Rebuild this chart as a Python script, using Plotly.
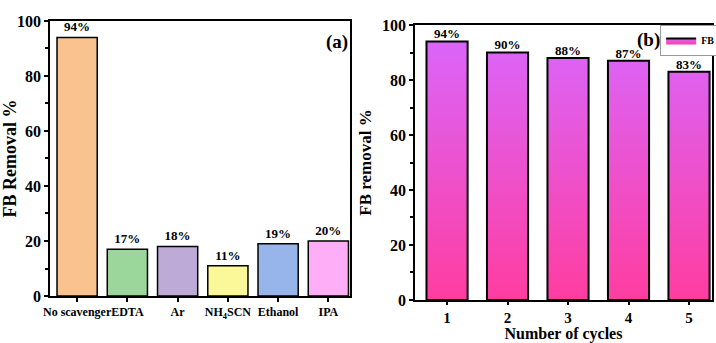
import plotly.graph_objects as go

# Panel (a) data
scavengers = ["No scavenger", "EDTA", "Ar", "NH<sub>4</sub>SCN", "Ethanol", "IPA"]
removal_a = [94, 17, 18, 11, 19, 20]
colors_a = ["#F9C390", "#9BD69A", "#BDAAD6", "#FBF89A", "#97B4EB", "#FDAEF6"]

# Panel (b) data
cycles = [1, 2, 3, 4, 5]
removal_b = [94, 90, 88, 87, 83]

FONT = "Liberation Serif, Times New Roman, serif"
fig = go.Figure()

fig.add_trace(go.Bar(
    x=list(range(len(scavengers))), y=removal_a, width=0.8,
    marker=dict(color=colors_a, line=dict(color="black", width=1.5)),
    text=[f"{v}%" for v in removal_a], textposition="outside", cliponaxis=False,
    textfont=dict(family=FONT, size=13, color="black", weight="bold"),
    showlegend=False, xaxis="x", yaxis="y"))

# Panel (b): gradient-filled bars drawn from the data
bw = 0.68
xs, ys = [], []
for c, v in zip(cycles, removal_b):
    xs += [c - bw / 2, c - bw / 2, c + bw / 2, c + bw / 2, c - bw / 2, None]
    ys += [0, v, v, 0, 0, None]
fig.add_trace(go.Scatter(
    x=xs, y=ys, mode="lines", fill="toself",
    fillgradient=dict(type="vertical", start=0, stop=100,
                      colorscale=[[0, "#FF3DA0"], [1, "#D868FF"]]),
    line=dict(color="black", width=2), name="FB",
    xaxis="x2", yaxis="y2", hoverinfo="skip"))
fig.add_trace(go.Scatter(
    x=cycles, y=removal_b, mode="text", text=[f"{v}%" for v in removal_b],
    textposition="top center", textfont=dict(family=FONT, size=13, color="black", weight="bold"),
    showlegend=False, xaxis="x2", yaxis="y2", cliponaxis=False))

axis_common = dict(showline=True, linecolor="black", linewidth=1.5, mirror=True,
                   ticks="outside", tickcolor="black", ticklen=4, tickwidth=1.5,
                   showgrid=False, zeroline=False, automargin=False,
                   tickfont=dict(family=FONT, size=16, color="black", weight="bold"))

fig.update_layout(
    width=716, height=343, margin=dict(l=0, r=0, t=0, b=0, autoexpand=False),
    plot_bgcolor="white", paper_bgcolor="white",
    font=dict(family=FONT, color="black"),
    xaxis=dict(domain=[0.0698, 0.4888], range=[-0.54, 5.43], tickangle=0,
               tickmode="array", tickvals=list(range(len(scavengers))),
               ticktext=scavengers, **axis_common),
    yaxis=dict(domain=[0.137, 0.939], range=[0, 100], dtick=20,
               minor=dict(dtick=10, ticks="outside", ticklen=3, tickcolor="black"),
               title=dict(text="FB Removal %", font=dict(family=FONT, size=18, weight="bold"), standoff=6),
               **axis_common),
    xaxis2=dict(domain=[0.5796, 0.9944], range=[0.47, 5.38], anchor="y2", tickangle=0,
                tickmode="array", tickvals=cycles, ticktext=[str(c) for c in cycles],
                title=dict(text="Number of cycles", font=dict(family=FONT, size=16, weight="bold"), standoff=0),
                **axis_common),
    yaxis2=dict(domain=[0.1254, 0.927], range=[0, 100], dtick=20, anchor="x2",
                minor=dict(dtick=10, ticks="outside", ticklen=3, tickcolor="black"),
                title=dict(text="FB removal %", font=dict(family=FONT, size=17, weight="bold"), standoff=6),
                **axis_common),
    legend=dict(x=0.922, xanchor="left", y=0.927, yanchor="top",
                bgcolor="white", bordercolor="#999", borderwidth=1,
                font=dict(family=FONT, size=10, color="black", weight="bold"),
                itemwidth=30, tracegroupgap=0),
    showlegend=True,
    annotations=[
        dict(text="(a)", x=0.47, y=0.877, xref="paper", yref="paper",
             xanchor="center", yanchor="middle",
             showarrow=False, font=dict(family=FONT, size=19, color="black", weight="bold")),
        dict(text="(b)", x=0.906, y=0.883, xref="paper", yref="paper",
             xanchor="center", yanchor="middle",
             showarrow=False, font=dict(family=FONT, size=19, color="black", weight="bold")),
    ],
)
fig.layout.xaxis.tickfont.size = 12
fig.layout.xaxis2.tickfont.size = 15
fig.layout.xaxis2.ticklen = 3

fig.write_html("out.html", post_script="document.body.style.margin='0';",
               config={"displayModeBar": False})
